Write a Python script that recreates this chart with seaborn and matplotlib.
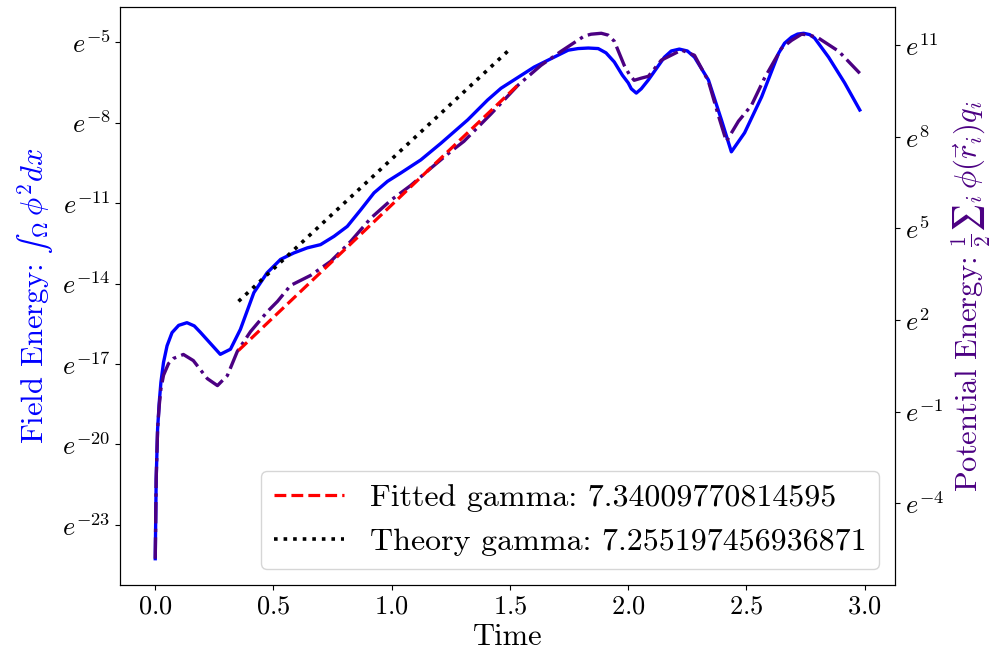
import matplotlib
matplotlib.use("Agg")
import matplotlib.pyplot as plt
import matplotlib.ticker as mticker
import numpy as np
import seaborn as sns

# %% data (values are natural logs of the energies)
t_field = [0, 0.004, 0.010, 0.017, 0.024, 0.035, 0.050, 0.071, 0.099, 0.134,
           0.165, 0.191, 0.235, 0.275, 0.318, 0.360, 0.417, 0.473, 0.530, 0.586,
           0.643, 0.699, 0.756, 0.812, 0.869, 0.925, 0.982, 1.038, 1.123, 1.208,
           1.321, 1.405, 1.462, 1.602, 1.746, 1.788, 1.831, 1.873, 1.906, 1.941,
           1.975, 2.000, 2.013, 2.034, 2.055, 2.085, 2.153, 2.182, 2.216, 2.250,
           2.280, 2.339, 2.394, 2.436, 2.492, 2.564, 2.636, 2.661, 2.691, 2.716,
           2.742, 2.767, 2.788, 2.847, 2.915, 2.979]
ln_field = [-24.26, -21.28, -19.42, -18.42, -17.68, -16.94, -16.32, -15.83, -15.56, -15.46,
            -15.58, -15.82, -16.25, -16.64, -16.45, -15.71, -14.34, -13.60, -13.10, -12.86,
            -12.67, -12.55, -12.24, -11.87, -11.25, -10.62, -10.19, -9.88, -9.39, -8.77,
            -7.90, -7.16, -6.72, -5.93, -5.30, -5.24, -5.22, -5.24, -5.40, -5.74,
            -6.23, -6.52, -6.74, -6.90, -6.74, -6.41, -5.56, -5.33, -5.26, -5.33,
            -5.56, -6.41, -7.90, -9.09, -8.38, -7.04, -5.41, -5.04, -4.81, -4.70,
            -4.67, -4.72, -4.85, -5.56, -6.52, -7.53]

t_pot = [0, 0.004, 0.010, 0.017, 0.024, 0.035, 0.056, 0.077, 0.119, 0.161,
         0.220, 0.263, 0.305, 0.347, 0.403, 0.475, 0.517, 0.572, 0.657, 0.742,
         0.826, 0.911, 0.996, 1.081, 1.165, 1.250, 1.305, 1.420, 1.534, 1.631,
         1.716, 1.814, 1.843, 1.886, 1.915, 1.941, 1.983, 2.004, 2.025, 2.055,
         2.085, 2.140, 2.225, 2.280, 2.339, 2.381, 2.415, 2.466, 2.521, 2.576,
         2.648, 2.691, 2.733, 2.767, 2.805, 2.890, 2.979]
ln_pot = [-5.82, -3.20, -1.56, -0.79, -0.25, 0.19, 0.57, 0.74, 0.87, 0.67,
          0.08, -0.15, 0.18, 0.97, 1.62, 2.28, 2.61, 3.13, 3.46, 3.92,
          4.57, 5.33, 5.92, 6.41, 6.97, 7.52, 7.85, 8.75, 9.69, 10.34,
          10.80, 11.30, 11.36, 11.39, 11.33, 11.13, 10.34, 10.05, 9.85, 9.92,
          9.98, 10.51, 10.84, 10.67, 9.82, 8.70, 7.85, 8.51, 9.03, 9.92,
          10.90, 11.16, 11.36, 11.33, 11.23, 10.80, 10.08]

fit_t = [0.352, 1.534]
fit_ln = [1.00, 9.70]
theory_t = [0.352, 1.504]
theory_ln = [2.61, 10.90]

gamma_fit = "7.34009770814595"
gamma_theory = "7.255197456936871"

left_ticks = [-23, -20, -17, -14, -11, -8, -5]
right_ticks = [-4, -1, 2, 5, 8, 11]

# %% style
plt.rcParams["font.family"] = "serif"
plt.rcParams["font.serif"] = ["cmr10"]
plt.rcParams["mathtext.fontset"] = "cm"
plt.rcParams["axes.formatter.use_mathtext"] = True
plt.rcParams["axes.unicode_minus"] = False


def e_power(v, pos):
    return r"$e^{%d}$" % int(round(np.log(v)))


# %% figure
fig, ax = plt.subplots(figsize=(9.96, 6.61), dpi=100)
ax2 = ax.twinx()

sns.lineplot(x=t_field, y=np.exp(ln_field), ax=ax, color="blue", linewidth=2.4,
             estimator=None, sort=False)
sns.lineplot(x=t_pot, y=np.exp(ln_pot), ax=ax2, color="indigo", linewidth=2.4,
             linestyle="-.", estimator=None, sort=False)
sns.lineplot(x=fit_t, y=np.exp(fit_ln), ax=ax2, color="red", linewidth=2.3,
             linestyle="--", estimator=None, sort=False,
             label="Fitted gamma: " + gamma_fit)
sns.lineplot(x=theory_t, y=np.exp(theory_ln), ax=ax2, color="black", linewidth=2.6,
             linestyle=":", estimator=None, sort=False,
             label="Theory gamma: " + gamma_theory)

for a, ticks in ((ax, left_ticks), (ax2, right_ticks)):
    a.set_yscale("log", base=np.e)
    a.yaxis.set_major_locator(mticker.FixedLocator(np.exp(ticks)))
    a.yaxis.set_major_formatter(mticker.FuncFormatter(e_power))
    a.yaxis.set_minor_locator(mticker.NullLocator())
    a.tick_params(labelsize=19)

ax.set_xticks([0.0, 0.5, 1.0, 1.5, 2.0, 2.5, 3.0])
ax.set_xlabel("Time", fontsize=22)
ax.set_ylabel("Field Energy: $\u222b_\\Omega\\, \\phi^2 dx$", fontsize=22, color="blue")
ax2.set_ylabel("Potential Energy: $\\frac{1}{2}\u2211_i\\, \\phi(\\vec{r}_i) q_i$",
               fontsize=22, color="indigo")

ax2.legend(loc="lower right", fontsize=23, handlelength=2.2)

fig.subplots_adjust(left=0.1205, right=0.8986, top=0.9894, bottom=0.115)
fig.savefig("out.png", dpi=100)
